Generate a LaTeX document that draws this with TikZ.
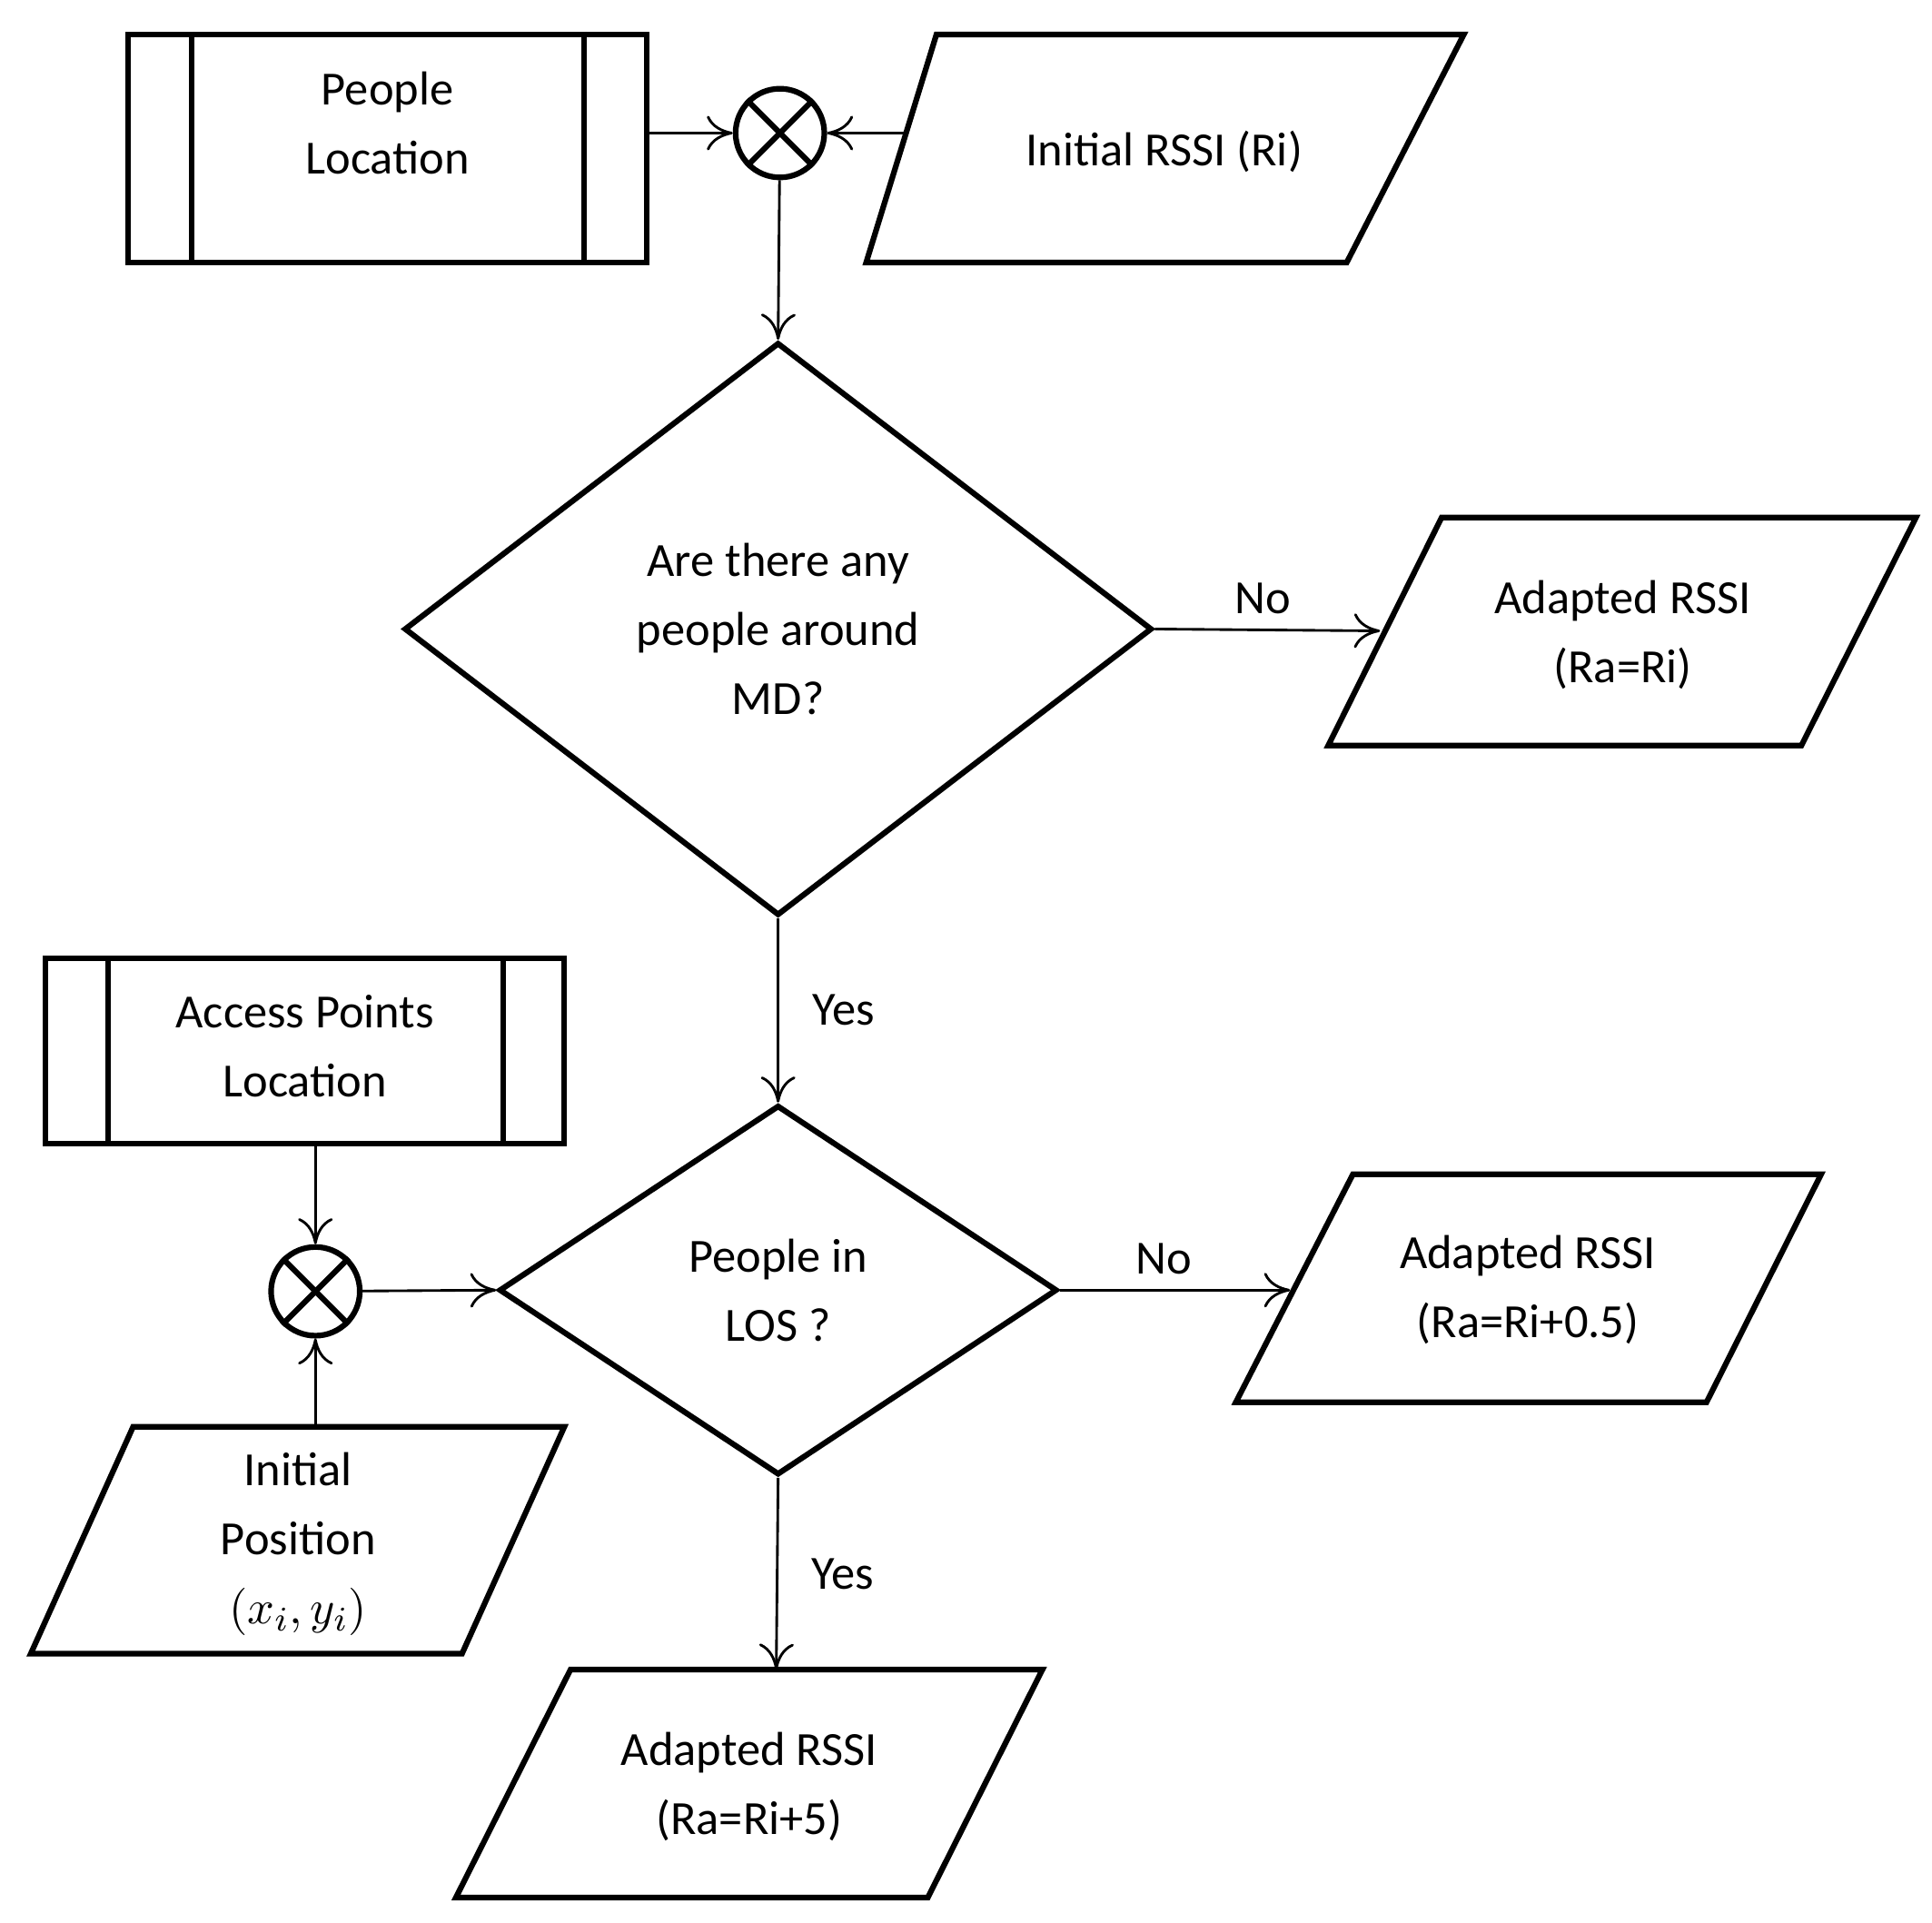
\documentclass[tikz,border=0pt]{standalone}
\usepackage{fontspec}
\setmainfont{Carlito}
\usetikzlibrary{shapes.geometric,arrows.meta}

\tikzset{
  box/.style={draw, line width=1.3pt, rectangle, align=center},
  outline/.style={draw, line width=1.3pt, line join=miter},
  label/.style={align=center},
  decision/.style={draw, line width=1.3pt, diamond, align=center},
  summer/.style={draw, line width=1.3pt, circle, minimum size=0.72cm, inner sep=0pt},
  flow/.style={-{To[length=6pt,width=8pt]}, line width=0.6pt}
}

\begin{document}
\begin{tikzpicture}[font=\fontsize{11}{16}\selectfont]
\useasboundingbox (0,0) rectangle (15.68,-15.6);

% top row
\node[box, minimum width=4.21cm, minimum height=1.85cm] (people) at (3.145,-1.205) {};
\node[label] (peopletext) at (3.145,-1.0) {People\\Location};
\draw[line width=1.3pt] ([xshift=0.54cm]people.north west) -- ([xshift=0.54cm]people.south west);
\draw[line width=1.3pt] ([xshift=-0.53cm]people.north east) -- ([xshift=-0.53cm]people.south east);
\node[summer] (j1) at (6.33,-1.08) {};
\draw[line width=1.3pt] (j1.45) -- (j1.225) (j1.135) -- (j1.315);
\draw[outline] (7.60,-0.28) -- (11.88,-0.28) -- (10.93,-2.13) -- (7.03,-2.13) -- cycle;
\node[label] (rssi) at (9.45,-1.23) {Initial RSSI (Ri)};
\coordinate (rssiin) at (7.35,-1.08);

% first decision
\node[decision, minimum width=6.07cm, minimum height=4.65cm] (q1) at (6.315,-5.105) {Are there any\\people around\\MD?};
\draw[outline] (11.70,-4.20) -- (15.55,-4.20) -- (14.62,-6.05) -- (10.78,-6.05) -- cycle;
\node[label] (out1) at (13.17,-5.15) {Adapted RSSI\\(Ra=Ri)};
\coordinate (out1in) at (11.20,-5.12);

% second decision
\node[box, minimum width=4.21cm, minimum height=1.5cm] (ap) at (2.475,-8.53) {};
\node[label] (aptext) at (2.475,-8.49) {Access Points\\Location};
\draw[line width=1.3pt] ([xshift=0.53cm]ap.north west) -- ([xshift=0.53cm]ap.south west);
\draw[line width=1.3pt] ([xshift=-0.52cm]ap.north east) -- ([xshift=-0.52cm]ap.south east);
\node[summer] (j2) at (2.56,-10.48) {};
\draw[line width=1.3pt] (j2.45) -- (j2.225) (j2.135) -- (j2.315);
\draw[outline] (1.08,-11.58) -- (4.58,-11.58) -- (3.75,-13.42) -- (0.25,-13.42) -- cycle;
\node[label] (pos) at (2.42,-12.53) {Initial\\Position\\$(x_i,y_i)$};
\coordinate (posout) at (2.56,-11.58);
\node[decision, minimum width=4.53cm, minimum height=3.0cm] (q2) at (6.315,-10.47) {People in\\LOS ?};
\draw[outline] (10.98,-9.53) -- (14.78,-9.53) -- (13.85,-11.38) -- (10.03,-11.38) -- cycle;
\node[label] (out2) at (12.40,-10.47) {Adapted RSSI\\(Ra=Ri+0.5)};
\coordinate (out2in) at (10.47,-10.47);
\draw[outline] (4.63,-13.55) -- (8.46,-13.55) -- (7.53,-15.40) -- (3.70,-15.40) -- cycle;
\node[label] (out3) at (6.08,-14.50) {Adapted RSSI\\(Ra=Ri+5)};
\coordinate (out3in) at (6.30,-13.55);

% connectors
\draw[flow] (people.east |- j1) -- (j1);
\draw[flow] (rssiin) -- (j1);
\draw[flow] (j1) -- (q1.north);
\draw[flow] (q1.east) -- node[above, pos=0.48] {No} (out1in);
\draw[flow] (q1.south) -- node[right, xshift=0.15cm] {Yes} (q2.north);
\draw[flow] (ap.south -| j2) -- (j2);
\draw[flow] (posout) -- (j2);
\draw[flow] (j2) -- (q2.west);
\draw[flow] (q2.east) -- node[above, pos=0.45] {No} (out2in);
\draw[flow] (q2.south) -- node[right, xshift=0.15cm] {Yes} (out3in);
\end{tikzpicture}
\end{document}
